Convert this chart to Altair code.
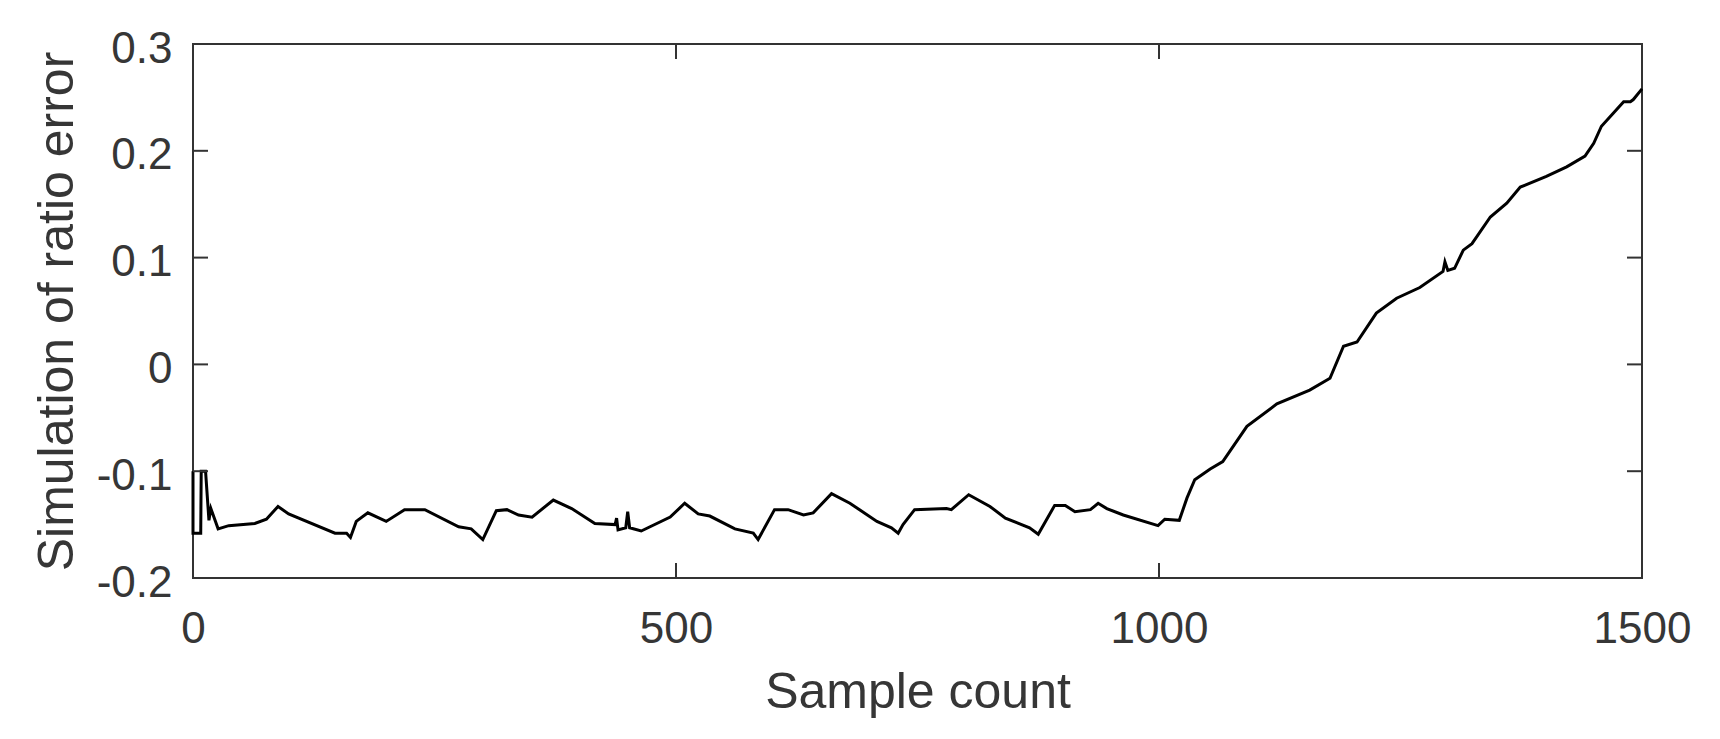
import altair as alt
import pandas as pd

# ---- data ----
sample = [0, 0, 8, 8.5, 13, 16.5, 18.5, 26, 37, 64, 76, 88, 99, 147, 159, 163, 169, 181,
          200, 219, 240, 275, 288, 300, 314, 325, 337, 351, 373, 392, 416, 437, 438.5,
          440, 448, 450, 452, 464, 494, 509, 523, 535, 561, 580, 585, 602, 616, 632,
          642, 661, 680, 708, 723, 730, 735, 747, 780, 785, 803, 825, 841, 866, 875,
          892, 903, 913, 929, 937, 946, 963, 999, 1006, 1021, 1029, 1037, 1053, 1066,
          1091, 1122, 1156, 1177, 1191, 1205, 1225, 1246, 1270, 1294, 1296, 1299, 1306,
          1315, 1324, 1343, 1360, 1374, 1401, 1422, 1441, 1450, 1458, 1470, 1481, 1488,
          1491, 1500]
ratio_error = [-0.100, -0.158, -0.158, -0.100, -0.100, -0.146, -0.135, -0.154, -0.151,
               -0.149, -0.145, -0.133, -0.140, -0.158, -0.158, -0.162, -0.147, -0.139,
               -0.147, -0.136, -0.136, -0.152, -0.154, -0.164, -0.137, -0.136, -0.141,
               -0.143, -0.127, -0.135, -0.149, -0.150, -0.144, -0.155, -0.153, -0.138,
               -0.153, -0.156, -0.143, -0.130, -0.140, -0.142, -0.154, -0.158, -0.164,
               -0.136, -0.136, -0.141, -0.139, -0.121, -0.130, -0.147, -0.153, -0.158,
               -0.150, -0.136, -0.135, -0.136, -0.122, -0.133, -0.144, -0.153, -0.159,
               -0.132, -0.132, -0.138, -0.136, -0.130, -0.135, -0.141, -0.151, -0.145,
               -0.146, -0.125, -0.108, -0.098, -0.091, -0.058, -0.037, -0.024, -0.013,
               0.017, 0.021, 0.048, 0.062, 0.072, 0.087, 0.096, 0.088, 0.090, 0.107,
               0.113, 0.138, 0.151, 0.166, 0.176, 0.185, 0.195, 0.207, 0.223, 0.235,
               0.246, 0.246, 0.248, 0.258]
x_ticks = [0, 500, 1000, 1500]
y_ticks = [-0.2, -0.1, 0, 0.1, 0.2, 0.3]
inner_x_ticks = [500, 1000]
inner_y_ticks = [-0.1, 0, 0.1, 0.2]

W, H = 1449, 534
TICK = 15
FONT = "Liberation Sans"
TXT = "#363636"
AX = "#333333"

df = pd.DataFrame({"sample": sample, "err": ratio_error, "idx": list(range(len(sample)))})

xscale = alt.Scale(domain=[0, 1500], nice=False, zero=False)
yscale = alt.Scale(domain=[-0.2, 0.3], nice=False, zero=False)

x_axis = alt.Axis(
    title="Sample count", values=x_ticks, format="d",
    labelFont=FONT, labelFontSize=44, labelColor=TXT, labelPadding=29,
    labelFlush=False, labelOverlap=False,
    ticks=False, tickSize=0, domain=False, grid=False,
    titleFont=FONT, titleFontSize=50, titleColor=TXT, titleFontWeight="normal",
    titleBaseline="alphabetic", titleX=W / 2, titleY=129, titleAlign="center",
)
y_axis = alt.Axis(
    title="Simulation of ratio error", values=y_ticks,
    labelExpr="datum.value < -0.00001 ? '-' + format(-datum.value, '.1~f') : format(abs(datum.value) < 0.00001 ? 0 : datum.value, '.1~f')",
    labelFont=FONT, labelFontSize=44, labelColor=TXT, labelPadding=21, labelOffset=5,
    labelFlush=False, labelOverlap=False,
    ticks=False, tickSize=0, domain=False, grid=False,
    titleFont=FONT, titleFontSize=50, titleColor=TXT, titleFontWeight="normal",
    titleAngle=270, titleBaseline="alphabetic", titleAlign="center",
    titleX=-121, titleY=H / 2,
)

line = alt.Chart(df).mark_line(color="black", strokeWidth=3).encode(
    x=alt.X("sample:Q", scale=xscale, axis=x_axis),
    y=alt.Y("err:Q", scale=yscale, axis=y_axis),
    order=alt.Order("idx:Q"),
)

ydf = pd.DataFrame({"err": inner_y_ticks})
xdf = pd.DataFrame({"sample": inner_x_ticks})

left_ticks = alt.Chart(ydf).mark_rule(color=AX, strokeWidth=2).encode(
    y=alt.Y("err:Q", scale=yscale, axis=y_axis), x=alt.value(0), x2=alt.value(TICK))
right_ticks = alt.Chart(ydf).mark_rule(color=AX, strokeWidth=2).encode(
    y=alt.Y("err:Q", scale=yscale, axis=y_axis), x=alt.value(W - TICK), x2=alt.value(W))
bottom_ticks = alt.Chart(xdf).mark_rule(color=AX, strokeWidth=2).encode(
    x=alt.X("sample:Q", scale=xscale, axis=x_axis), y=alt.value(H - TICK), y2=alt.value(H))
top_ticks = alt.Chart(xdf).mark_rule(color=AX, strokeWidth=2).encode(
    x=alt.X("sample:Q", scale=xscale, axis=x_axis), y=alt.value(0), y2=alt.value(TICK))

chart = alt.layer(line, left_ticks, right_ticks, bottom_ticks, top_ticks).properties(
    width=W, height=H,
    autosize=alt.AutoSizeParams(type="none"),
    padding={"left": 185, "top": 36, "right": 70, "bottom": 153},
    background="white",
).configure_view(stroke=AX, strokeWidth=2)

chart.save("out.html", embed_options={"renderer": "svg", "actions": False})
